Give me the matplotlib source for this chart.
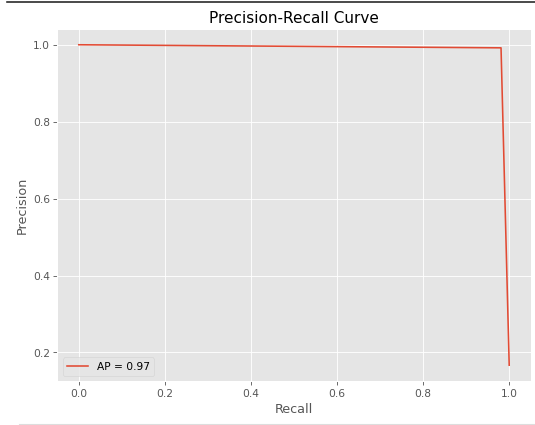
import matplotlib
matplotlib.use("Agg")
import matplotlib.pyplot as plt

# precision-recall points
recall = [1.0, 0.981, 0.0]
precision = [0.167, 0.992, 1.0]
ap = 0.97

plt.style.use('ggplot')
# 700x556 figure drawn at reduced dpi -> 535x425
fig, ax = plt.subplots(figsize=(7.0, 5.563), dpi=76.43)
ax.plot(recall, precision, label=f'AP = {ap:.2f}')
ax.set_xlabel('Recall')
ax.set_ylabel('Precision')
ax.set_title('Precision-Recall Curve')
ax.legend(loc='lower left')
fig.subplots_adjust(left=0.107, right=0.992, top=0.932, bottom=0.103)

# notebook screenshot edges
fig.add_artist(plt.Line2D([0.013, 1.0], [0.995, 0.995], color='#222222', lw=1.5, transform=fig.transFigure))
fig.add_artist(plt.Line2D([0.035, 1.0], [0.003, 0.003], color='#dddddd', lw=1, transform=fig.transFigure))
fig.savefig('out.png', dpi=76.43)
